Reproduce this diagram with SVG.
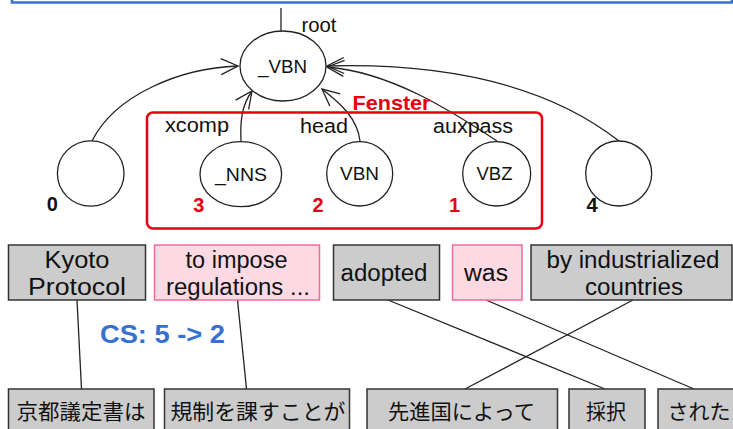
<svg xmlns="http://www.w3.org/2000/svg" width="733" height="429" viewBox="0 0 733 429">
<style>
  text { font-family: "Liberation Sans", Arial, Helvetica, sans-serif; fill: #111; }
  .lbl { font-size: 20px; }
  .node { font-size: 18px; text-anchor: middle; }
  .num { font-size: 20px; font-weight: bold; text-anchor: middle; }
  .red { fill: #e60012; }
  .en { font-size: 23px; text-anchor: middle; }
  .jp { font-family: "Liberation Sans", "Noto Sans CJK JP", sans-serif; font-size: 21px; text-anchor: middle; }
  .circ { fill: #fff; stroke: #222; stroke-width: 1.3; }
  .arc { fill: none; stroke: #222; stroke-width: 1.3; marker-end: url(#arr); }
  .gray { fill: #cccccc; stroke: #333; stroke-width: 1.5; }
  .pink { fill: #fcd9e3; stroke: #ef6c96; stroke-width: 1.5; }
  .link { stroke: #222; stroke-width: 1.3; fill: none; }
</style>
<defs>
  <marker id="arr" markerUnits="userSpaceOnUse" markerWidth="40" markerHeight="40" refX="0" refY="0" orient="auto" viewBox="-20 -20 40 40" overflow="visible">
    <path d="M-17,-8 L0,0 L-17,8" fill="none" stroke="#222" stroke-width="1.3"/>
  </marker>
</defs>
<rect x="12" y="-20" width="720" height="22.5" fill="none" stroke="#3671d2" stroke-width="2.5"/>

<g id="connectors">
  <line class="link" x1="281" y1="8" x2="281" y2="31"/>
  <path class="arc" d="M92,141 C115,95 180,68 238,66"/>
  <path class="arc" d="M241,141 C240,120 242,105 252,91"/>
  <path class="arc" d="M360,141 C357,115 335,100 322,89"/>
  <path class="arc" d="M497,141 C450,110 390,72 327,67"/>
  <path class="arc" d="M619,141 C560,95 470,62 327,66"/>
  <line class="link" x1="77" y1="300" x2="81.5" y2="389" stroke-width="2.2"/>
  <line class="link" x1="237.5" y1="300" x2="246.5" y2="389"/>
  <line class="link" x1="388" y1="300" x2="605" y2="389"/>
  <line class="link" x1="486" y1="300" x2="694" y2="389"/>
  <line class="link" x1="633" y1="300" x2="465" y2="389"/>
</g>

<g id="root-label">
  <text class="lbl" x="301.5" y="31.5" textLength="35" lengthAdjust="spacingAndGlyphs">root</text>
</g>

<g id="n-vbn-root">
  <ellipse class="circ" cx="283" cy="66" rx="43" ry="35"/>
  <text class="node" x="282.5" y="73" font-size="19" textLength="49" lengthAdjust="spacingAndGlyphs">_VBN</text>
</g>

<g id="fenster">
  <rect x="147" y="112.5" width="395" height="116" rx="6" fill="none" stroke="#e60012" stroke-width="2.5"/>
  <text class="red" x="352.5" y="109.5" font-size="21" font-weight="bold" textLength="78" lengthAdjust="spacingAndGlyphs">Fenster</text>
</g>

<g id="edge-labels">
  <text class="lbl" x="165" y="132" textLength="64" lengthAdjust="spacingAndGlyphs">xcomp</text>
  <text class="lbl" x="300" y="133" textLength="48" lengthAdjust="spacingAndGlyphs">head</text>
  <text class="lbl" x="433" y="133" textLength="80" lengthAdjust="spacingAndGlyphs">auxpass</text>
</g>

<g id="n0">
  <ellipse class="circ" cx="90.7" cy="173.5" rx="33.3" ry="32.7"/>
  <text class="num" x="52.3" y="211">0</text>
</g>
<g id="n-nns">
  <ellipse class="circ" cx="240.8" cy="174.2" rx="40.8" ry="32.5"/>
  <text class="node" x="241" y="181" textLength="52" lengthAdjust="spacingAndGlyphs">_NNS</text>
  <text class="num red" x="198.8" y="211.5">3</text>
</g>
<g id="n-vbn">
  <ellipse class="circ" cx="359.7" cy="173.8" rx="33" ry="32.2"/>
  <text class="node" x="359.5" y="180" font-size="17.5" textLength="39" lengthAdjust="spacingAndGlyphs">VBN</text>
  <text class="num red" x="318" y="211.5">2</text>
</g>
<g id="n-vbz">
  <ellipse class="circ" cx="496.7" cy="173.8" rx="34" ry="32.2"/>
  <text class="node" x="494.5" y="180" font-size="17.5" textLength="36" lengthAdjust="spacingAndGlyphs">VBZ</text>
  <text class="num red" x="454.5" y="211.5">1</text>
</g>
<g id="n4">
  <ellipse class="circ" cx="618.7" cy="173.5" rx="33" ry="32.5"/>
  <text class="num" x="592" y="212">4</text>
</g>

<g id="e-kyoto">
  <rect class="gray" x="8.5" y="245" width="137" height="55"/>
  <text class="en" x="77" y="268" textLength="65" lengthAdjust="spacingAndGlyphs">Kyoto</text>
  <text class="en" x="77" y="295" textLength="98" lengthAdjust="spacingAndGlyphs">Protocol</text>
</g>
<g id="e-impose">
  <rect class="pink" x="154.5" y="245" width="165" height="55"/>
  <text class="en" x="236.5" y="268" textLength="102" lengthAdjust="spacingAndGlyphs">to impose</text>
  <text class="en" x="238" y="295" textLength="144" lengthAdjust="spacingAndGlyphs">regulations ...</text>
</g>
<g id="e-adopted">
  <rect class="gray" x="333.5" y="245" width="106" height="55"/>
  <text class="en" x="384" y="280.5" textLength="87" lengthAdjust="spacingAndGlyphs">adopted</text>
</g>
<g id="e-was">
  <rect class="pink" x="452.5" y="245" width="69.5" height="55"/>
  <text class="en" x="486" y="280.5" textLength="44" lengthAdjust="spacingAndGlyphs">was</text>
</g>
<g id="e-industrialized">
  <rect class="gray" x="531" y="245" width="201" height="55"/>
  <text class="en" x="633" y="268" textLength="173" lengthAdjust="spacingAndGlyphs">by industrialized</text>
  <text class="en" x="634" y="295" textLength="98" lengthAdjust="spacingAndGlyphs">countries</text>
</g>

<g id="cs-label">
  <text x="100" y="343" font-size="25" font-weight="bold" style="fill:#3671d2" textLength="125" lengthAdjust="spacingAndGlyphs">CS: 5 -&gt; 2</text>
</g>

<g id="j-kyoto">
  <rect class="gray" x="8.5" y="389" width="145.5" height="50"/>
  <text class="jp" x="81" y="419" textLength="129" lengthAdjust="spacingAndGlyphs">京都議定書は</text>
</g>
<g id="j-kisei">
  <rect class="gray" x="164.5" y="389" width="185" height="50"/>
  <text class="jp" x="258" y="419" textLength="175" lengthAdjust="spacingAndGlyphs">規制を課すことが</text>
</g>
<g id="j-senshin">
  <rect class="gray" x="367" y="389" width="190.5" height="50"/>
  <text class="jp" x="461.5" y="419" textLength="147" lengthAdjust="spacingAndGlyphs">先進国によって</text>
</g>
<g id="j-saitaku">
  <rect class="gray" x="569" y="389" width="76" height="50"/>
  <text class="jp" x="606" y="419" textLength="40" lengthAdjust="spacingAndGlyphs">採択</text>
</g>
<g id="j-sareta">
  <rect class="gray" x="658" y="389" width="85" height="50"/>
  <text class="jp" x="699" y="419" textLength="63" lengthAdjust="spacingAndGlyphs">された</text>
</g>
</svg>
